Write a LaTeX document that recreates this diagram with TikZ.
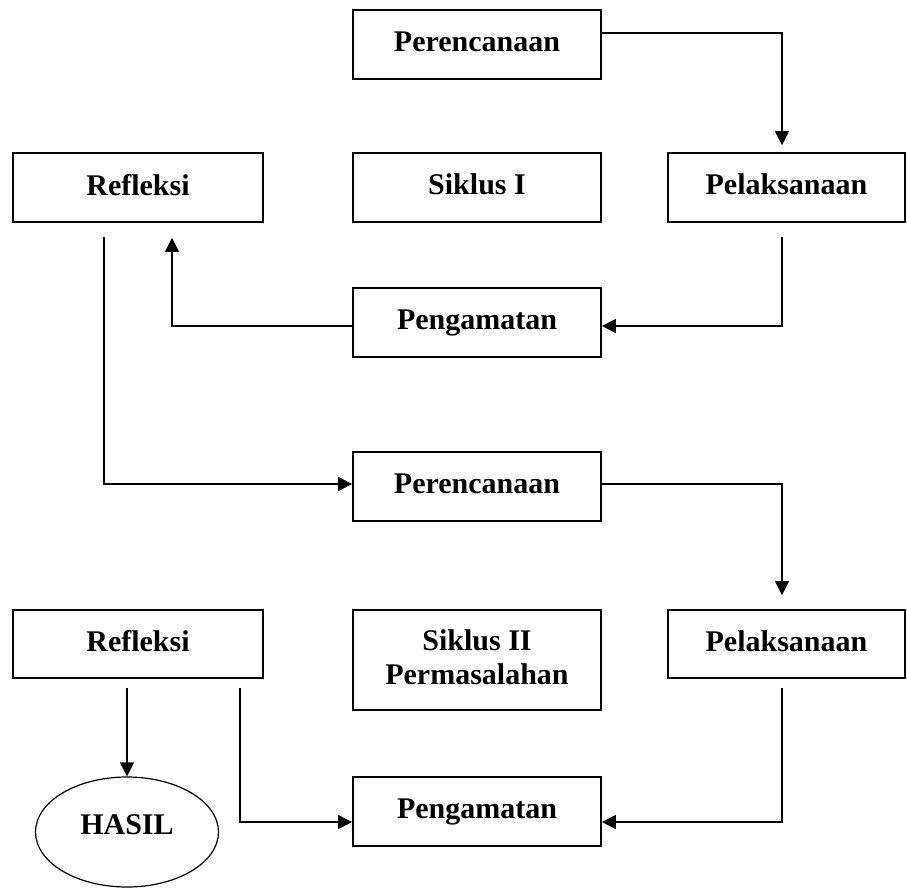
\documentclass[tikz,border=0pt]{standalone}
\usepackage{fontspec}
\setmainfont{Liberation Serif}
\usetikzlibrary{shapes.geometric,arrows.meta}

\begin{document}
\begin{tikzpicture}[x=1pt,y=-1pt,
  kotak/.style={draw, line width=1.7pt, minimum height=69pt, inner sep=0pt,
    font=\bfseries\fontsize{30}{34}\selectfont, text depth=6pt},
  panah/.style={line width=1.2pt, -{Triangle[length=14pt,width=14pt]}}]
  \useasboundingbox (0,0) rectangle (907,888);

  % siklus I
  \node [kotak, minimum width=248pt] (per1) at (477,44.5) {Perencanaan};
  \node [kotak, minimum width=250pt] (ref1) at (138,187.5) {Refleksi};
  \node [kotak, minimum width=248pt] (sik1) at (477,187.5) {Siklus I};
  \node [kotak, minimum width=237pt] (pel1) at (786.5,187.5) {Pelaksanaan};
  \node [kotak, minimum width=248pt] (pen1) at (477,322.5) {Pengamatan};

  % siklus II
  \node [kotak, minimum width=248pt] (per2) at (477,486.5) {Perencanaan};
  \node [kotak, minimum width=250pt, minimum height=68pt] (ref2) at (138,644) {Refleksi};
  \node [kotak, minimum width=248pt, minimum height=100pt, align=center] (sik2) at (477,660) {Siklus II\\Permasalahan};
  \node [kotak, minimum width=237pt, minimum height=68pt] (pel2) at (786.5,644) {Pelaksanaan};
  \node [kotak, minimum width=248pt] (pen2) at (477,811.5) {Pengamatan};

  \node [draw, ellipse, line width=1.2pt, minimum width=183pt, minimum height=110pt, inner sep=0pt,
    font=\bfseries\fontsize{30}{34}\selectfont, text depth=14pt] (hasil) at (127,832) {HASIL};

  \draw [panah] ([yshift=11.5pt]per1.east) -| ([xshift=-4.5pt,yshift=7pt]pel1.north);
  \draw [panah] ([xshift=-4.5pt,yshift=-14pt]pel1.south) |- ([yshift=-3.5pt]pen1.east);
  \draw [panah] ([yshift=-3.5pt]pen1.west) -| ([xshift=34pt,yshift=-15pt]ref1.south);
  \draw [panah] ([xshift=-34pt,yshift=-14pt]ref1.south) |- ([yshift=2.5pt]per2.west);

  \draw [panah] ([yshift=2.5pt]per2.east) -| ([xshift=-4.5pt,yshift=14pt]pel2.north);
  \draw [panah] ([xshift=-11pt,yshift=-9pt]ref2.south) -- (hasil.north);
  \draw [panah] ([xshift=102pt,yshift=-9pt]ref2.south) |- ([yshift=-10.5pt]pen2.west);
  \draw [panah] ([xshift=-4.5pt,yshift=-9pt]pel2.south) |- ([yshift=-10.5pt]pen2.east);

\end{tikzpicture}
\end{document}
